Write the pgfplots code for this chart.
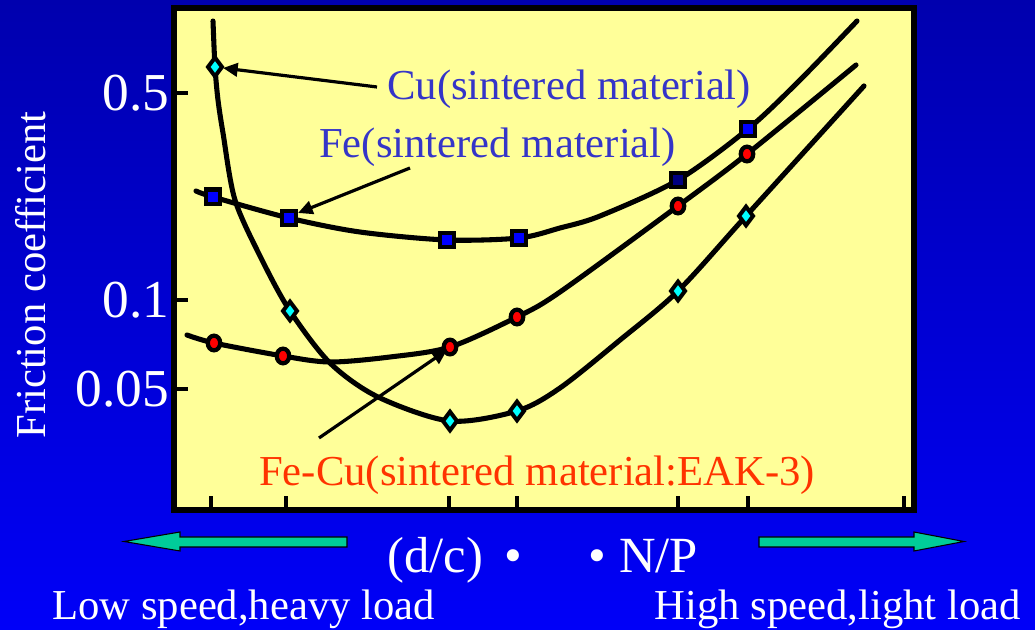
\documentclass[border=0pt]{standalone}
\usepackage{pgfplots}
\pgfplotsset{compat=1.18}
\usepackage{fontspec}
\setmainfont{Liberation Serif}
\usetikzlibrary{arrows.meta}
\definecolor{bgtop}{HTML}{0000AE}
\definecolor{bgbot}{HTML}{0000F8}
\definecolor{plotbg}{HTML}{FFFF99}
\definecolor{annblue}{HTML}{3535C8}
\definecolor{annred}{HTML}{FF3300}
\definecolor{arrowteal}{HTML}{00CC99}
\definecolor{cyanm}{HTML}{00FFFF}
\definecolor{navym}{HTML}{000080}
\begin{document}
\begin{tikzpicture}
\shade[top color=bgtop, bottom color=bgbot] (0pt,0pt) rectangle (776.25pt,472.5pt);
\begin{axis}[
  at={(130.5pt,90pt)}, anchor=south west,
  scale only axis, width=555pt, height=376.5pt,
  xmin=174, xmax=914,
  ymode=log, ymin=0.01954, ymax=0.9676,
  axis background/.style={fill=plotbg},
  axis line style={line width=4.5pt, black, line join=miter},
  xtick={211,286,449,517,678,748,904}, xticklabels={},
  ytick={0.05,0.1,0.5}, yticklabels={0.05,0.1,0.5},
  yminorticks=false, xminorticks=false,
  xtick pos=left, ytick pos=left,
  tick align=inside, major tick length=10.5pt,
  tick style={line width=3pt, black},
  yticklabel style={font=\fontsize{40}{40}\selectfont, text=white},
]
% Cu (sintered material)
\addplot[line width=3.8pt, line cap=round, smooth, tension=0.5] coordinates {
(213,0.8745) (215,0.6117) (218,0.4733) (223,0.3662) (235,0.2175) (262,0.1365)
(290,0.0918) (330,0.06126) (378,0.04704) (450,0.03903) (517,0.04219)
(560,0.05045) (620,0.07324) (678,0.10722) (746,0.1921) (864,0.5278)};
% Fe (sintered material)
\addplot[line width=3.8pt, line cap=round, smooth, tension=0.5] coordinates {
(196,0.2333) (213,0.2227) (289,0.1891) (360,0.1696) (447,0.1594) (519,0.1619)
(560,0.1750) (600,0.1921) (678,0.2541) (748,0.3778) (800,0.5529) (857,0.8745)};
% Fe-Cu (sintered material: EAK-3)
\addplot[line width=3.8pt, line cap=round, smooth, tension=0.5] coordinates {
(187,0.07616) (214,0.07156) (283,0.06469) (330,0.06174) (390,0.06419)
(450,0.06936) (517,0.08759) (560,0.10639) (678,0.2076) (747,0.3110) (856,0.6213)};
% markers
\addplot[only marks, mark=diamond*, mark size=7pt,
  mark options={draw=black, fill=cyanm, line width=3pt}] coordinates {
(215,0.6117) (290,0.0918) (450,0.03903) (517,0.04219) (678,0.10722) (746,0.1921)};
\addplot[only marks, mark=square*, mark size=5.5pt,
  mark options={draw=black, fill=blue, line width=3.2pt}] coordinates {
(213,0.2227) (289,0.1891) (447,0.1594) (519,0.1619) (748,0.3778)};
\addplot[only marks, mark=square*, mark size=5.5pt,
  mark options={draw=black, fill=navym, line width=3.2pt}] coordinates {
(678,0.2541)};
\addplot[only marks, mark=*, mark size=5.5pt,
  mark options={draw=black, fill=red, line width=3.2pt, xscale=0.85}] coordinates {
(214,0.07156) (283,0.06469) (450,0.06936) (517,0.08759) (678,0.2076) (747,0.3110)};
\end{axis}
\begin{scope}[shift={(0pt,472.5pt)}, x=0.75pt, y=-0.75pt]
  % annotation arrows
  \draw[line width=2.4pt, -{Triangle[length=11pt,width=10pt]}] (377,87) -- (223,68);
  \draw[line width=2.4pt, -{Triangle[length=11pt,width=10pt]}] (410,168) -- (298,213);
  \draw[line width=2.4pt, -{Triangle[length=11pt,width=10pt]}] (319,438) -- (447,350);
  % annotation texts
  \node[anchor=base west, inner sep=0pt, text=annblue, font=\fontsize{32}{32}\selectfont] at (387,100) {Cu(sintered material)};
  \node[anchor=base west, inner sep=0pt, text=annblue, font=\fontsize{32}{32}\selectfont] at (319,158) {Fe(sintered material)};
  \node[anchor=base west, inner sep=0pt, text=annred, font=\fontsize{32}{32}\selectfont] at (259,486) {Fe-Cu(sintered material:EAK-3)};
  % y label
  \node[rotate=90, inner sep=0pt, text=white, font=\fontsize{32}{32}\selectfont] at (31,275) {Friction coefficient};
  % bottom arrows
  \draw[fill=arrowteal, draw=black, line width=0.8pt] (124,541.5) -- (180,532) -- (180,537) -- (347,537) -- (347,547) -- (180,547) -- (180,551) -- cycle;
  \draw[fill=arrowteal, draw=black, line width=0.8pt] (964,541.5) -- (914,532) -- (914,537) -- (759,537) -- (759,547) -- (914,547) -- (914,551) -- cycle;
  % bottom texts
  \node[anchor=base west, inner sep=0pt, text=white, font=\fontsize{38}{38}\selectfont] at (387,573) {(d/c)};
  \node[anchor=base, inner sep=0pt, text=white, font=\fontsize{38}{38}\selectfont] at (513,573) {•};
  \node[anchor=base, inner sep=0pt, text=white, font=\fontsize{38}{38}\selectfont] at (597,573) {•};
  \node[anchor=base west, inner sep=0pt, text=white, font=\fontsize{38}{38}\selectfont] at (619,573) {N/P};
  \node[anchor=base west, inner sep=0pt, text=white, font=\fontsize{32}{32}\selectfont] at (52,620) {Low speed,heavy load};
  \node[anchor=base east, inner sep=0pt, text=white, font=\fontsize{32}{32}\selectfont] at (1021,620) {High speed,light load};
\end{scope}
\pgfresetboundingbox
\path (0pt,0pt) rectangle (776.25pt,472.5pt);
\end{tikzpicture}
\end{document}
